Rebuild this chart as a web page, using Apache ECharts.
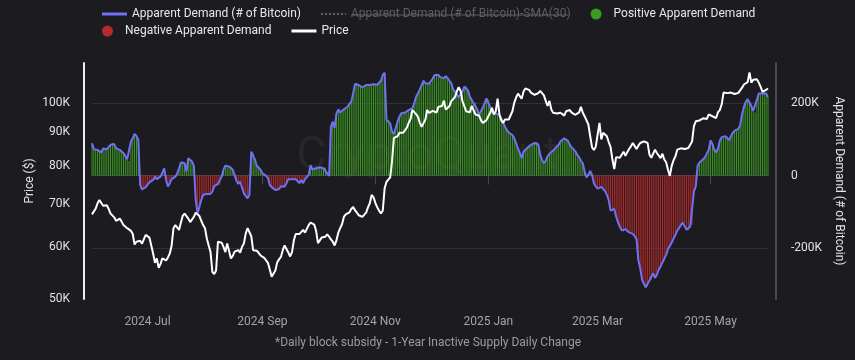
<!DOCTYPE html>
<html><head><meta charset="utf-8">
<script src="https://cdn.jsdelivr.net/npm/echarts@6/dist/echarts.min.js"></script>
<style>html,body{margin:0;padding:0;background:#1b1b20;}#c{width:855px;height:360px;}</style>
</head><body><div id="c"></div>
<script>
// Daily series starting 2024-06-01 (one value per day)
const startDate = [2024, 5, 1];
// Apparent Demand, thousands of BTC
const demandK = [
89,73,73,71,69,64,75,71,73,75,
85,89,87,75,73,71,66,62,54,45,
40,94,103,115,109,100,-26,-38,-35,-32,
-29,-19,-14,-12,-3,-10,-5,-3,8,20,
-12,-30,-21,-10,-5,-3,6,20,36,39,
34,11,48,43,39,27,-67,-104,-86,-67,
-53,-53,-51,-53,-51,-44,-29,-29,-23,-26,
-3,17,27,27,25,25,16,2,-14,-23,
-17,-21,-49,-53,-63,-53,66,62,43,27,
23,16,6,2,-1,-7,-26,-32,-37,-40,
-42,-37,-30,-29,-30,-21,-10,-5,-10,-10,
-10,-14,-21,-12,-21,-10,-5,2,29,17,
20,20,22,23,20,20,22,6,-1,135,
149,131,172,183,174,177,183,183,190,198,
204,227,253,255,250,247,244,246,250,247,
250,250,252,250,251,253,262,278,284,154,
154,144,121,115,131,149,163,172,172,174,
177,181,177,186,200,218,227,238,250,262,
255,255,254,257,268,278,281,278,272,267,
269,275,269,262,255,238,232,225,216,215,
232,246,246,235,218,213,200,202,183,167,
172,188,200,213,209,189,175,172,172,170,
167,158,147,135,126,119,116,112,103,89,
75,62,48,66,71,76,80,85,87,90,
93,86,57,43,34,41,54,60,60,69,
75,80,85,95,100,103,100,96,85,78,
75,67,57,51,41,34,11,-5,2,13,
2,-21,-30,-36,-33,-31,-34,-43,-53,-68,
-97,-98,-92,-113,-129,-141,-151,-155,-148,-153,
-157,-157,-161,-167,-176,-233,-256,-288,-299,-309,
-299,-290,-288,-270,-283,-274,-260,-251,-240,-236,
-219,-203,-195,-185,-174,-164,-152,-148,-137,-130,
-132,-150,-152,-141,-136,-44,-30,27,36,40,
45,51,56,71,97,87,71,64,75,97,
106,104,109,108,98,109,118,124,124,129,
140,170,190,204,211,202,192,179,174,209,
227,224,227,229,227,216
];
// BTC price, thousands of USD
const priceK = [
67.4,67.6,68.8,70.1,70.9,70.5,69.5,69.4,69.6,68.7,
67.6,68.0,66.7,65.9,66.2,66.4,65.7,64.9,64.8,64.2,
64.2,63.6,62.9,60.6,61.2,60.8,61.4,60.8,61.2,62.7,
62.9,62.1,60.4,58.7,56.8,57.7,55.8,56.6,57.7,57.7,
57.3,57.9,58.7,60.4,64.2,64.9,64.5,63.8,65.5,67.1,
67.6,67.8,66.4,65.6,65.9,66.8,67.8,67.9,67.0,65.9,
64.9,64.2,61.9,60.4,59.0,55.0,54.6,55.3,61.2,61.4,
61.0,60.1,59.0,60.8,60.4,57.7,58.2,59.1,59.1,59.4,
58.9,60.1,60.8,63.0,64.2,64.0,62.4,59.4,59.3,59.3,
59.2,58.3,58.7,57.8,57.3,56.8,55.5,54.1,54.1,55.3,
56.9,57.5,58.0,59.4,60.4,60.1,58.9,58.1,59.0,61.5,
62.9,63.2,62.9,63.2,63.8,63.2,63.6,64.9,65.5,65.4,
65.0,63.6,60.9,61.2,62.1,61.7,62.3,62.8,62.3,61.7,
61.2,60.4,61.5,63.2,64.2,65.1,66.8,67.4,67.4,67.9,
68.7,69.2,68.4,67.8,67.2,67.6,66.8,66.7,67.8,69.1,
70.1,72.2,71.6,70.2,69.1,68.3,67.6,68.3,73.9,75.6,
76.2,76.8,81.3,88.3,87.8,88.8,89.9,90.1,89.9,90.7,
91.5,93.1,94.4,97.4,97.6,96.0,95.1,93.1,91.8,92.0,
94.2,97.4,96.4,96.0,97.1,96.7,96.5,98.5,98.0,98.8,
100.7,97.6,97.4,98.8,100.5,101.2,102.0,104.0,105.6,104.2,
100.5,98.8,97.0,97.4,96.6,98.8,99.0,95.9,95.3,95.5,
94.0,93.1,92.9,94.0,95.3,96.5,98.2,95.9,97.0,101.4,
95.9,93.9,93.1,94.2,94.2,94.2,94.4,97.0,100.0,101.8,
103.2,103.6,101.4,104.0,105.1,104.4,104.6,103.6,103.2,102.8,
102.4,103.4,104.2,104.6,102.6,100.6,98.8,100.6,97.6,96.5,
96.2,96.2,96.5,96.5,96.2,95.5,97.0,96.6,97.4,96.5,
95.9,95.8,95.5,96.6,98.5,96.5,95.3,94.7,92.6,88.8,
85.4,84.6,85.6,85.2,93.1,87.8,89.9,89.9,88.8,87.0,
85.5,81.8,79.1,82.5,82.1,82.3,82.7,84.1,82.9,83.9,
84.9,85.7,86.7,86.1,84.9,85.9,86.7,87.2,87.2,86.7,
86.7,83.2,82.3,83.5,84.7,83.7,83.2,82.2,83.5,81.8,
81.0,78.9,77.2,80.0,81.6,82.7,84.7,85.2,85.1,84.9,
84.9,85.2,85.2,85.7,87.2,92.0,93.6,94.1,93.9,94.4,
94.6,94.0,94.4,95.9,96.5,95.3,95.9,94.7,96.7,97.4,
99.4,103.6,103.6,103.4,103.4,103.6,103.3,103.1,103.5,103.5,
103.6,105.4,106.6,106.2,107.5,111.2,107.3,108.4,108.9,108.6,
107.3,105.8,103.9,103.4,104.6,105.1
];
const priceTicks = [50, 60, 70, 80, 90, 100];
const demandTicks = [-200, 0, 200];
const monthTicks = [[2024,6],[2024,8],[2024,10],[2025,0],[2025,2],[2025,4]];
const monthNames = ['Jan','Feb','Mar','Apr','May','Jun','Jul','Aug','Sep','Oct','Nov','Dec'];
const names = {
  demand: 'Apparent Demand (# of Bitcoin)',
  sma: 'Apparent Demand (# of Bitcoin)-SMA(30)',
  pos: 'Positive Apparent Demand',
  neg: 'Negative Apparent Demand',
  price: 'Price'
};
const footnote = '*Daily block subsidy - 1-Year Inactive Supply Daily Change';
const watermark = 'CryptoQuant';

const DAY = 86400000;
const t0 = Date.UTC(startDate[0], startDate[1], startDate[2]);
const dates = demandK.map((_, i) => t0 + i * DAY);
const demandData = dates.map((t, i) => [t, demandK[i]]);
const posData = dates.map((t, i) => [t, demandK[i] > 0 ? demandK[i] : '-']);
const negData = dates.map((t, i) => [t, demandK[i] < 0 ? demandK[i] : '-']);
const priceData = dates.map((t, i) => [t, priceK[i]]);
const tickTimes = monthTicks.map(m => Date.UTC(m[0], m[1], 1));

const FONT = 'Roboto';
const lineIcon = 'path://M0,0L25,0L25,3L0,3Z';
const dotIcon = 'path://M0,0h2v2h-2zM4,0h2v2h-2zM8,0h2v2h-2zM12,0h2v2h-2zM16,0h2v2h-2zM20,0h2v2h-2zM24,0h1v2h-1z';
const legendBase = { itemWidth: 25, itemHeight: 11, itemGap: 20, padding: 0, left: 102,
  textStyle: { color: '#e8e8ec', fontSize: 12, fontFamily: FONT }, inactiveColor: '#5f5f67' };
const chart = echarts.init(document.getElementById('c'));
chart.setOption({
  backgroundColor: '#1b1b20',
  animation: false,
  textStyle: { fontFamily: FONT },
  grid: { left: 92, right: 87, top: 63, bottom: 61 },
  legend: [
    Object.assign({}, legendBase, { top: 8,
      data: [{ name: names.demand, icon: lineIcon }, { name: names.sma, icon: dotIcon }, { name: names.pos, icon: 'circle' }],
      selected: { [names.sma]: false } }),
    Object.assign({}, legendBase, { top: 25,
      data: [{ name: names.neg, icon: 'circle' }, { name: names.price, icon: lineIcon }] })
  ],
  xAxis: {
    type: 'value', min: t0, max: t0 + 365 * DAY, scale: true,
    axisLine: { lineStyle: { color: '#45454d', width: 1 } },
    axisTick: { show: true, length: 9, lineStyle: { color: '#45454d' }, customValues: tickTimes },
    axisLabel: { customValues: tickTimes, color: '#a3a3ad', fontSize: 12, margin: 17,
      formatter: v => { const d = new Date(v); return d.getUTCFullYear() + ' ' + monthNames[d.getUTCMonth()]; } },
    splitLine: { show: false }
  },
  yAxis: [
    { type: 'log', logBase: 10, min: 50, max: 115, position: 'left', offset: 8,
      axisLine: { show: true, lineStyle: { color: '#eeeeee', width: 2 } },
      axisTick: { show: false },
      axisLabel: { customValues: priceTicks, formatter: v => v + 'K', color: '#e0e0e6', fontSize: 12, margin: 14 },
      splitLine: { show: false },
      name: 'Price ($)', nameLocation: 'middle', nameGap: 48, nameRotate: 90, nameMoveOverlap: false,
      nameTextStyle: { color: '#e0e0e6', fontSize: 12 } },
    { type: 'value', min: -341, max: 311, position: 'right', offset: 8,
      axisLine: { show: true, lineStyle: { color: '#4a4a53', width: 2 } },
      axisTick: { show: false, customValues: demandTicks },
      axisLabel: { customValues: demandTicks, formatter: v => v === 0 ? '0' : v + 'K', color: '#e0e0e6', fontSize: 12, margin: 15 },
      splitLine: { show: true, lineStyle: { color: '#303038', width: 1 } },
      name: 'Apparent Demand (# of Bitcoin)', nameLocation: 'middle', nameGap: 54, nameRotate: -90,
      nameTextStyle: { color: '#e0e0e6', fontSize: 12 } }
  ],
  series: [
    { name: names.pos, type: 'bar', yAxisIndex: 1, data: posData, barWidth: 1, barGap: '-100%',
      itemStyle: { color: '#3c9a22' }, z: 2 },
    { name: names.neg, type: 'bar', yAxisIndex: 1, data: negData, barWidth: 1, barGap: '-100%',
      itemStyle: { color: '#b32b2b' }, z: 2 },
    { name: names.sma, type: 'line', yAxisIndex: 1, data: [], symbol: 'none',
      lineStyle: { type: 'dotted', color: '#777', width: 2 }, itemStyle: { color: '#777' } },
    { name: names.demand, type: 'line', yAxisIndex: 1, data: demandData, symbol: 'none',
      lineStyle: { color: '#7070f4', width: 2 }, itemStyle: { color: '#7070f4' }, z: 3 },
    { name: names.price, type: 'line', yAxisIndex: 0, data: priceData, symbol: 'none',
      lineStyle: { color: '#ffffff', width: 2 }, itemStyle: { color: '#ffffff' }, z: 4 }
  ],
  graphic: [
    { type: 'text', left: 'center', top: 134, z: 0, silent: true,
      style: { text: watermark, fill: 'rgba(255,255,255,0.05)', font: '47px ' + FONT } },
    { type: 'line', silent: true, z: 100,
      shape: { x1: 351, y1: 15, x2: 568, y2: 15 }, style: { stroke: '#5f5f67', lineWidth: 1 } },
    { type: 'text', x: 428, y: 343, silent: true,
      style: { text: footnote, fill: '#9b9ba5', font: '12px ' + FONT, align: 'center', verticalAlign: 'middle' } }
  ]
});
</script></body></html>
